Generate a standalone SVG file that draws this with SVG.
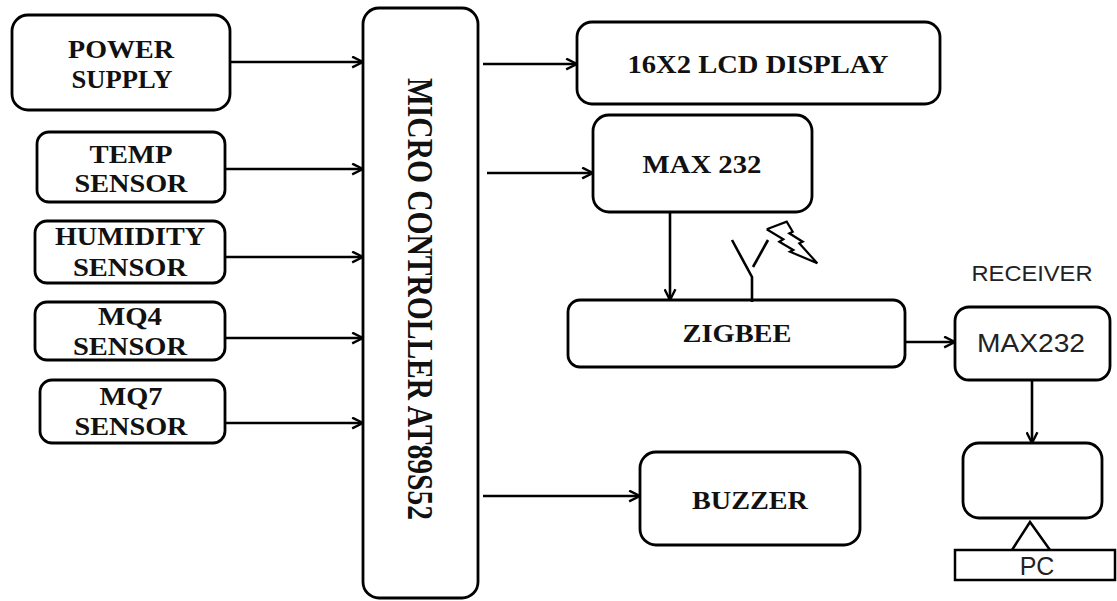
<svg xmlns="http://www.w3.org/2000/svg" width="1117" height="601" viewBox="0 0 1117 601">
<defs>
<marker id="arr" viewBox="0 0 12 12" refX="11" refY="6" markerWidth="13" markerHeight="13" markerUnits="userSpaceOnUse" orient="auto">
<path d="M1,1 L11,6 L1,11" fill="none" stroke="#000" stroke-width="2.2"/>
</marker>
<style>
.box{fill:#fff;stroke:#000;stroke-width:2.8}
.t{font-family:"Liberation Serif","Times New Roman",serif;font-weight:bold;font-size:25px;fill:#111;text-anchor:middle}
.s{font-family:"Liberation Sans",Arial,sans-serif;fill:#222;text-anchor:middle}
.c line,.c polyline{stroke:#000;stroke-width:2.6;fill:none}
</style>
</defs>
<rect width="1117" height="601" fill="#fff"/>
<g id="power"><rect class="box" x="12" y="15" width="218" height="95" rx="16"/>
<text class="t" x="121" y="58" textLength="106" lengthAdjust="spacingAndGlyphs">POWER</text>
<text class="t" x="122" y="88" textLength="101" lengthAdjust="spacingAndGlyphs">SUPPLY</text></g>
<g id="temp"><rect class="box" x="37" y="132" width="188" height="70" rx="12"/>
<text class="t" x="131" y="163" textLength="83" lengthAdjust="spacingAndGlyphs">TEMP</text>
<text class="t" x="131" y="192" textLength="113" lengthAdjust="spacingAndGlyphs">SENSOR</text></g>
<g id="humidity"><rect class="box" x="35" y="221" width="190" height="62" rx="12"/>
<text class="t" x="130" y="245" textLength="150" lengthAdjust="spacingAndGlyphs">HUMIDITY</text>
<text class="t" x="130" y="276" textLength="114" lengthAdjust="spacingAndGlyphs">SENSOR</text></g>
<g id="mq4"><rect class="box" x="35" y="302" width="190" height="58" rx="12"/>
<text class="t" x="130" y="325" textLength="64" lengthAdjust="spacingAndGlyphs">MQ4</text>
<text class="t" x="130" y="355" textLength="114" lengthAdjust="spacingAndGlyphs">SENSOR</text></g>
<g id="mq7"><rect class="box" x="40" y="380" width="185" height="63" rx="12"/>
<text class="t" x="131" y="405" textLength="63" lengthAdjust="spacingAndGlyphs">MQ7</text>
<text class="t" x="131" y="435" textLength="113" lengthAdjust="spacingAndGlyphs">SENSOR</text></g>
<g id="mcu"><rect class="box" x="363" y="8" width="115" height="590" rx="16"/>
<text class="t" transform="translate(408,299) rotate(90)" x="0" y="0" style="font-size:35px" textLength="442" lengthAdjust="spacingAndGlyphs">MICRO CONTROLLER AT89S52</text></g>
<g id="lcd"><rect class="box" x="577" y="22" width="363" height="82" rx="15"/>
<text class="t" x="758" y="73" textLength="261" lengthAdjust="spacingAndGlyphs">16X2 LCD DISPLAY</text></g>
<g id="max232"><rect class="box" x="593" y="115" width="219" height="97" rx="16"/>
<text class="t" x="702" y="173" textLength="119" lengthAdjust="spacingAndGlyphs">MAX 232</text></g>
<g id="zigbee"><rect class="box" x="568" y="300" width="337" height="67" rx="12"/>
<text class="t" x="737" y="342" textLength="109" lengthAdjust="spacingAndGlyphs">ZIGBEE</text></g>
<g id="antenna" class="c">
<polyline points="732,240 752,277 752,302"/>
<line x1="768" y1="240" x2="753" y2="267"/>
<polyline style="stroke-width:2.2" points="766.7,229.3 786.7,221.7 792.7,231.7 789.3,233.3 802.7,241.7 799.3,243.3 817.3,263.3 790,251.7 793.3,250 779.3,241.7 783.3,239.3 766.7,229.3"/>
</g>
<g id="buzzer"><rect class="box" x="640" y="452" width="220" height="93" rx="16"/>
<text class="t" x="750" y="509" textLength="116" lengthAdjust="spacingAndGlyphs">BUZZER</text></g>
<g id="receiver-label"><text class="s" x="1032" y="281" style="font-size:22px" textLength="121" lengthAdjust="spacingAndGlyphs">RECEIVER</text></g>
<g id="rx-max232"><rect class="box" x="955" y="307" width="155" height="73" rx="14"/>
<text class="s" x="1031" y="352" style="font-size:25px" textLength="108" lengthAdjust="spacingAndGlyphs">MAX232</text></g>
<g id="pc"><rect class="box" x="963" y="443" width="139" height="75" rx="16"/>
<polyline points="1012,550 1030,522 1050,550" fill="none" stroke="#000" stroke-width="2.5"/>
<rect x="955" y="550" width="160" height="30" fill="#fff" stroke="#000" stroke-width="2.5"/>
<text class="s" x="1037" y="575" style="font-size:25px">PC</text></g>
<g id="connectors" class="c">
<line x1="230" y1="62" x2="363" y2="62" marker-end="url(#arr)"/>
<line x1="225" y1="169" x2="363" y2="169" marker-end="url(#arr)"/>
<line x1="225" y1="257" x2="363" y2="257" marker-end="url(#arr)"/>
<line x1="225" y1="338" x2="363" y2="338" marker-end="url(#arr)"/>
<line x1="225" y1="423" x2="363" y2="423" marker-end="url(#arr)"/>
<line x1="483" y1="64" x2="577" y2="64" marker-end="url(#arr)"/>
<line x1="487" y1="173" x2="593" y2="173" marker-end="url(#arr)"/>
<line x1="670" y1="212" x2="670" y2="300" marker-end="url(#arr)"/>
<line x1="483" y1="496" x2="640" y2="496" marker-end="url(#arr)"/>
<line x1="905" y1="342" x2="955" y2="342" marker-end="url(#arr)"/>
<line x1="1032" y1="380" x2="1032" y2="443" marker-end="url(#arr)"/>
</g>
</svg>
